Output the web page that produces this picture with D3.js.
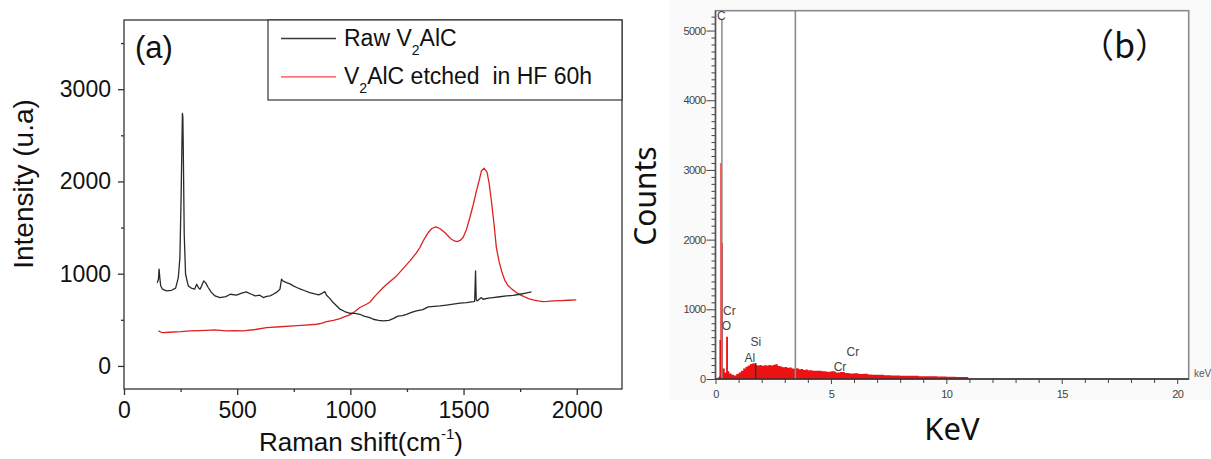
<!DOCTYPE html>
<html>
<head>
<meta charset="utf-8">
<script src="https://cdn.jsdelivr.net/npm/d3@7"></script>
<style>
  html, body { margin: 0; padding: 0; background: #ffffff; }
  svg { display: block; }
  text { white-space: pre; }
</style>
</head>
<body>
<script>
// ---------------- DATA ----------------
// Panel (a): Raman spectra  [Raman shift (cm^-1), intensity (u.a)]
const rawV2AlC = [
  [147,900],[152,940],[155,1049],[158,960],[162,870],[170,832],[188,813],[210,820],[228,843],
  [240,958],[247,1175],[252,1790],[255,2260],[258,2737],[260,2700],[262,2332],[266,1430],
  [272,994],[284,868],[300,840],[312,832],[321,886],[330,845],[336,832],[343,868],[352,922],
  [361,900],[372,850],[385,800],[402,759],[424,741],[450,752],[470,777],[497,767],[520,790],
  [540,803],[560,780],[580,759],[600,767],[615,741],[630,755],[645,760],[659,777],[675,800],
  [689,832],[696,940],[703,920],[718,904],[733,890],[748,868],[763,850],[780,832],[799,815],
  [820,795],[843,780],[860,770],[877,790],[887,806],[895,767],[910,730],[924,687],[940,650],
  [954,615],[975,590],[998,571],[1020,570],[1042,560],[1060,540],[1086,524],[1101,506],
  [1125,495],[1145,488],[1170,495],[1189,513],[1210,540],[1230,545],[1248,560],[1270,580],
  [1292,597],[1320,610],[1344,640],[1370,645],[1395,651],[1425,660],[1454,669],[1485,680],
  [1513,687],[1535,695],[1545,698],[1549,700],[1553,1030],[1556,720],[1560,705],[1579,741],
  [1586,723],[1610,735],[1630,741],[1660,750],[1690,759],[1720,765],[1748,777],[1775,790],
  [1800,803]
];
const etchedV2AlC = [
  [152,380],[165,365],[174,361],[200,365],[250,372],[291,380],[330,383],[365,386],[400,390],
  [453,380],[490,382],[527,380],[580,395],[630,416],[690,425],[748,434],[800,442],[851,452],
  [875,465],[895,481],[925,495],[954,513],[975,535],[998,553],[1020,590],[1042,633],[1071,669],
  [1086,690],[1110,760],[1145,850],[1175,915],[1204,976],[1235,1060],[1263,1139],[1290,1220],
  [1307,1283],[1325,1370],[1344,1446],[1360,1490],[1377,1508],[1395,1490],[1417,1446],
  [1435,1400],[1447,1374],[1460,1355],[1472,1348],[1485,1360],[1498,1392],[1513,1480],
  [1528,1609],[1543,1750],[1557,1898],[1570,2020],[1579,2115],[1591,2143],[1604,2097],
  [1613,1980],[1623,1790],[1635,1530],[1645,1283],[1657,1130],[1668,1030],[1682,930],
  [1697,868],[1715,830],[1734,795],[1750,770],[1770,748],[1790,728],[1807,716],[1830,705],
  [1851,698],[1870,700],[1895,705],[1930,708],[1960,712],[1998,716]
];
const seriesNames = ["Raw V|2|AlC", "V|2|AlC etched  in HF 60h"];
const ramanMajorTicks = [0, 500, 1000, 1500, 2000];
const ramanMinorTicks = [250, 750, 1250, 1750];
const intensityMajorTicks = [0, 1000, 2000, 3000];
const intensityMinorTicks = [500, 1500, 2500, 3500];

// Panel (b): EDS spectrum [energy (keV), counts]
const edsSpectrum = [
  [0.00,0],[0.10,20],[0.15,40],[0.17,560],[0.21,3100],[0.27,1950],[0.32,150],[0.40,90],
  [0.45,100],[0.46,607],[0.54,110],[0.60,80],[0.70,60],[0.80,52],[0.90,70],[1.00,95],
  [1.10,120],[1.20,150],[1.30,175],[1.40,195],[1.50,215],[1.60,225],[1.70,205],[1.80,195],
  [1.90,200],[2.00,190],[2.10,198],[2.20,192],[2.30,200],[2.40,195],[2.50,205],[2.60,210],
  [2.70,185],[2.80,180],[2.90,170],[3.00,172],[3.10,160],[3.20,165],[3.30,150],[3.40,148],
  [3.50,155],[3.60,140],[3.70,145],[3.80,130],[3.90,135],[4.00,125],[4.20,120],[4.40,118],
  [4.60,110],[4.80,105],[5.00,112],[5.20,95],[5.40,100],[5.60,85],[5.80,80],[6.00,82],
  [6.20,72],[6.40,75],[6.60,65],[6.80,62],[7.00,60],[7.30,55],[7.60,52],[8.00,48],
  [8.40,45],[8.80,40],[9.20,38],[9.60,35],[10.00,32],[10.40,30],[10.80,28],[10.95,0],[20.5,0]
];
const edsElementLines = [ [0.277, 5150, "#8a8a8a"], [1.74, 230, "#333333"] ];
const edsCursorKeV = 3.46;
const edsLabels = [
  ["C", 0.07, 5150], ["Cr", 0.33, 920], ["O", 0.27, 700], ["Si", 1.52, 470],
  ["Al", 1.26, 250], ["Cr", 5.68, 330], ["Cr", 5.12, 110]
];
const keVMajorTicks = [0, 5, 10, 15, 20];
const keVMinorTicks = [1,2,3,4,6,7,8,9,11,12,13,14,16,17,18,19];
const countMajorTicks = [0, 1000, 2000, 3000, 4000, 5000];
const countMinorTicks = d3.range(100, 5300, 100).filter(v => v % 1000 !== 0);

// ---------------- CHART ----------------
const W = 1211, H = 459;
const svg = d3.select("body").append("svg").attr("width", W).attr("height", H);
svg.append("rect").attr("width", W).attr("height", H).attr("fill", "#fff");

const FONT = "'Liberation Sans', Arial, sans-serif";

// ===== Panel (a) =====
const xA = d3.scaleLinear().domain([0, 2200]).range([124, 622]);
const yA = d3.scaleLinear().domain([-250, 3750]).range([389, 20]);
const axisCol = "#333";

const gA = svg.append("g");

function styleAxis(g, fs) {
  g.select(".domain").remove();
  g.selectAll(".tick line").attr("stroke", axisCol).attr("stroke-width", 1.3);
  g.selectAll(".tick text").attr("font-family", FONT).attr("font-size", fs).attr("fill", "#111");
}

gA.append("g").attr("transform", "translate(0,389)")
  .call(d3.axisBottom(xA).tickValues(ramanMinorTicks).tickSize(3).tickFormat(""))
  .call(g => styleAxis(g, 23));
gA.append("g").attr("transform", "translate(0,389)")
  .call(d3.axisBottom(xA).tickValues(ramanMajorTicks).tickSize(6).tickPadding(7).tickFormat(d3.format("d")))
  .call(g => styleAxis(g, 23));
gA.append("g").attr("transform", "translate(124,0)")
  .call(d3.axisLeft(yA).tickValues(intensityMinorTicks).tickSize(3).tickFormat(""))
  .call(g => styleAxis(g, 23));
gA.append("g").attr("transform", "translate(124,0)")
  .call(d3.axisLeft(yA).tickValues(intensityMajorTicks).tickSize(6).tickPadding(7).tickFormat(d3.format("d")))
  .call(g => styleAxis(g, 23));

const lineA = d3.line().x(d => xA(d[0])).y(d => yA(d[1]));
gA.append("path").datum(etchedV2AlC).attr("d", lineA)
  .attr("fill", "none").attr("stroke", "#dd2222").attr("stroke-width", 1.3).attr("stroke-linejoin", "round");
gA.append("path").datum(rawV2AlC).attr("d", lineA)
  .attr("fill", "none").attr("stroke", "#2a2a2a").attr("stroke-width", 1.3).attr("stroke-linejoin", "round");

gA.append("rect").attr("x", 124).attr("y", 20).attr("width", 498).attr("height", 369)
  .attr("fill", "none").attr("stroke", axisCol).attr("stroke-width", 1.3);

// legend
const leg = gA.append("g");
leg.append("rect").attr("x", 268).attr("y", 20).attr("width", 354).attr("height", 80)
  .attr("fill", "#fff").attr("stroke", axisCol).attr("stroke-width", 1.2);
const legColors = ["#3a3a3a", "#ff4040"];
seriesNames.forEach((name, i) => {
  const ly = 38.5 + i * 38.3;
  leg.append("line").attr("x1", 281).attr("x2", 336).attr("y1", ly).attr("y2", ly)
    .attr("stroke", legColors[i]).attr("stroke-width", 1.3);
  const parts = name.split("|");
  const t = leg.append("text").attr("x", 344).attr("y", ly + 7)
    .attr("font-family", FONT).attr("font-size", 23).attr("fill", "#111");
  t.append("tspan").text(parts[0]);
  t.append("tspan").attr("font-size", 14).attr("dy", 9).text(parts[1]);
  t.append("tspan").attr("dy", -9).text(parts[2]);
});

gA.append("text").attr("x", 135).attr("y", 58).attr("font-family", FONT)
  .attr("font-size", 31).attr("fill", "#111").text("(a)");

const xt = gA.append("text").attr("x", 361).attr("y", 451).attr("text-anchor", "middle")
  .attr("font-family", FONT).attr("font-size", 26).attr("fill", "#111");
xt.append("tspan").text("Raman shift(cm");
xt.append("tspan").attr("font-size", 15).attr("dy", -12).text("-1");
xt.append("tspan").attr("dy", 12).text(")");

gA.append("text").attr("transform", "translate(33,184) rotate(-90)").attr("text-anchor", "middle")
  .attr("font-family", FONT).attr("font-size", 28).attr("fill", "#111").text("Intensity (u.a)");

// ===== Panel (b) =====
const gB = svg.append("g");
gB.append("rect").attr("x", 669).attr("y", 0).attr("width", W - 669).attr("height", 400).attr("fill", "#fafafa");
const xB = d3.scaleLinear().domain([0, 20.5]).range([715.5, 1188.7]);
const yB = d3.scaleLinear().domain([0, 5285]).range([379, 10.7]);
gB.append("rect").attr("x", 715.5).attr("y", 10.7).attr("width", 1188.7 - 715.5).attr("height", 379 - 10.7)
  .attr("fill", "#fff").attr("stroke", "#8a8a8a").attr("stroke-width", 1.6);

const areaB = d3.area().curve(d3.curveStepAfter)
  .x(d => xB(d[0])).y0(yB(0)).y1(d => yB(d[1]));
gB.append("path").datum(edsSpectrum).attr("d", areaB).attr("fill", "#ee1111").attr("stroke", "none");

edsElementLines.forEach(([k, c, col]) => {
  gB.append("line").attr("x1", xB(k)).attr("x2", xB(k)).attr("y1", yB(0)).attr("y2", yB(c))
    .attr("stroke", col).attr("stroke-width", 1.5);
});
gB.append("line").attr("x1", xB(edsCursorKeV)).attr("x2", xB(edsCursorKeV))
  .attr("y1", yB(0)).attr("y2", yB(5285)).attr("stroke", "#8a8a8a").attr("stroke-width", 1.6);

function styleB(g) {
  g.select(".domain").remove();
  g.selectAll(".tick line").attr("stroke", "#444").attr("stroke-width", 1);
  g.selectAll(".tick text").attr("font-family", FONT).attr("font-size", 11)
    .attr("fill", "#444").attr("letter-spacing", -0.6);
}
gB.append("g").attr("transform", "translate(715.5,0)")
  .call(d3.axisLeft(yB).tickValues(countMinorTicks).tickSize(4).tickFormat(""))
  .call(styleB);
gB.append("g").attr("transform", "translate(715.5,0)")
  .call(d3.axisLeft(yB).tickValues(countMajorTicks).tickSize(9).tickPadding(1).tickFormat(d3.format("d")))
  .call(styleB);
gB.append("g").attr("transform", "translate(0,379)")
  .call(d3.axisBottom(xB).tickValues(keVMinorTicks).tickSize(4).tickFormat(""))
  .call(styleB);
gB.append("g").attr("transform", "translate(0,379)")
  .call(d3.axisBottom(xB).tickValues(keVMajorTicks).tickSize(5).tickPadding(6).tickFormat(d3.format("d")))
  .call(styleB);
gB.append("line").attr("x1", 715.5).attr("x2", 715.5).attr("y1", 10.7).attr("y2", 379)
  .attr("stroke", "#555").attr("stroke-width", 1.4);
gB.append("line").attr("x1", 715.5).attr("x2", 1188.7).attr("y1", 379).attr("y2", 379)
  .attr("stroke", "#333").attr("stroke-width", 1.4);

edsLabels.forEach(([t, k, c]) => {
  gB.append("text").attr("x", xB(k)).attr("y", yB(c)).attr("font-family", FONT)
    .attr("font-size", 12).attr("fill", "#444").text(t);
});
gB.append("text").attr("x", 1194).attr("y", 377).attr("font-family", FONT)
  .attr("font-size", 10).attr("fill", "#555").text("keV");

gB.append("text").attr("x", 1080).attr("y", 58).attr("font-family", "'Noto Sans CJK SC', sans-serif")
  .attr("font-size", 34).attr("fill", "#111").text("（b）");

gB.append("text").attr("transform", "translate(656,196) rotate(-90)").attr("text-anchor", "middle")
  .attr("font-family", "'Noto Sans', 'Open Sans', sans-serif").attr("font-size", 30).attr("fill", "#111").text("Counts");
gB.append("text").attr("x", 952).attr("y", 440).attr("text-anchor", "middle")
  .attr("font-family", "'Noto Sans', 'Open Sans', sans-serif").attr("font-size", 31).attr("fill", "#111").text("KeV");
</script>
</body>
</html>
